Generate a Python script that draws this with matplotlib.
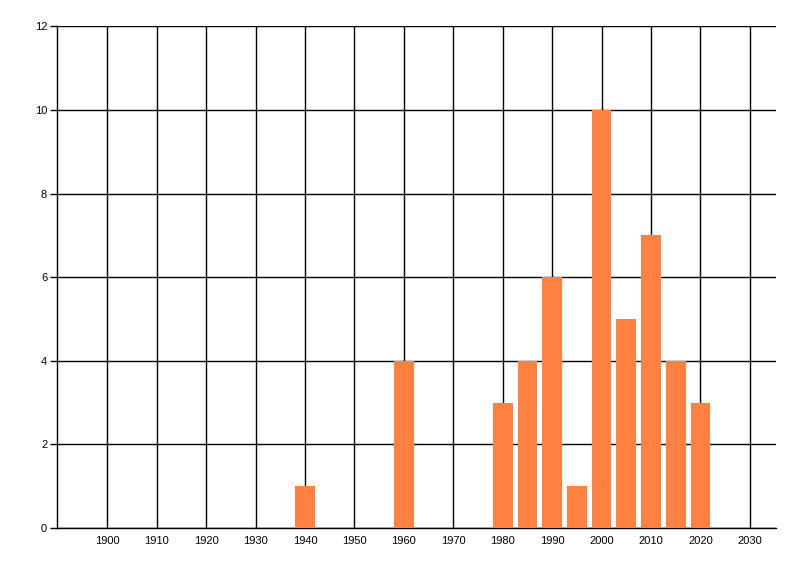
import matplotlib
matplotlib.use('Agg')
import matplotlib.pyplot as plt

years = [1940, 1960, 1980, 1985, 1990, 1995, 2000, 2005, 2010, 2015, 2020]
counts = [1, 4, 3, 4, 6, 1, 10, 5, 7, 4, 3]
xticks = list(range(1900, 2031, 10))
yticks = list(range(0, 13, 2))

plt.rcParams['font.family'] = ['Liberation Sans', 'DejaVu Sans']

fig = plt.figure(figsize=(8, 5.76), dpi=100)
ax = fig.add_axes([0.0712, 0.0833, 0.8982, 0.8707])

ax.bar(years, counts, width=4, color='#FF8040', zorder=3)

ax.set_xlim(1889.8, 2035.2)
ax.set_ylim(0, 12)
ax.set_xticks(xticks)
ax.set_yticks(yticks)
ax.grid(True, color='black', linewidth=1.0, zorder=0)
ax.set_axisbelow(True)

for side in ['top', 'right']:
    ax.spines[side].set_visible(False)
for side in ['left', 'bottom']:
    ax.spines[side].set_linewidth(1.0)

ax.tick_params(axis='x', length=0, pad=6, labelsize=8)
ax.tick_params(axis='y', length=5, width=1.0, pad=2, labelsize=8)

fig.savefig('out.png', dpi=100)
